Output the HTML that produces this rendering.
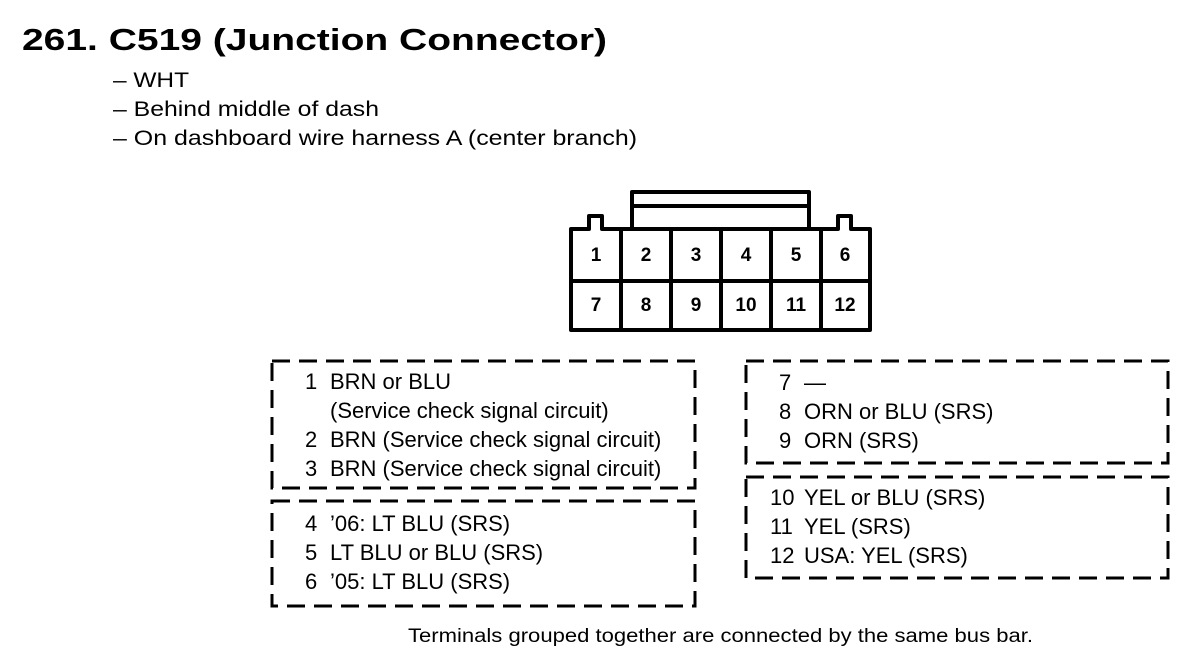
<!DOCTYPE html>
<html><head><meta charset="utf-8"><style>
html,body{margin:0;padding:0;background:#fff;}
svg{display:block;}
text{font-family:"Liberation Sans",Arial,sans-serif;fill:#000;}
</style></head><body>
<svg width="1200" height="670" viewBox="0 0 1200 670" xmlns="http://www.w3.org/2000/svg">
<text x="22" y="50" font-size="31" font-weight="bold" textLength="585" lengthAdjust="spacingAndGlyphs">261. C519 (Junction Connector)</text>
<text x="113" y="87" font-size="21" textLength="76" lengthAdjust="spacingAndGlyphs">– WHT</text>
<text x="113" y="116" font-size="21" textLength="266" lengthAdjust="spacingAndGlyphs">– Behind middle of dash</text>
<text x="113" y="145" font-size="21" textLength="524" lengthAdjust="spacingAndGlyphs">– On dashboard wire harness A (center branch)</text>

<g fill="none" stroke="#000" stroke-width="4" stroke-linejoin="round">
<rect x="632" y="192" width="177" height="37"/>
<line x1="632" y1="206" x2="809" y2="206"/>
<path d="M571 229 H589 V216 H602 V229 H838 V216 H851 V229 H870 V330 H571 Z" fill="#fff"/>
<line x1="571" y1="281" x2="870" y2="281"/>
<line x1="621" y1="229" x2="621" y2="330"/>
<line x1="671" y1="229" x2="671" y2="330"/>
<line x1="721" y1="229" x2="721" y2="330"/>
<line x1="771" y1="229" x2="771" y2="330"/>
<line x1="821" y1="229" x2="821" y2="330"/>
</g>
<g font-size="19" font-weight="bold" text-anchor="middle">
<text x="596" y="261">1</text><text x="646" y="261">2</text><text x="696" y="261">3</text><text x="746" y="261">4</text><text x="796" y="261">5</text><text x="845" y="261">6</text>
<text x="596" y="311">7</text><text x="646" y="311">8</text><text x="696" y="311">9</text><text x="746" y="311">10</text><text x="796" y="311">11</text><text x="845" y="311">12</text>
</g>

<g fill="none" stroke="#000" stroke-width="3" stroke-dasharray="18 9">
<rect x="272" y="361" width="423" height="127"/>
<rect x="272" y="501" width="423" height="105"/>
<rect x="746" y="361" width="422" height="102"/>
<rect x="746" y="477" width="422" height="101"/>
</g>

<g font-size="22">
<text x="305" y="389">1</text><text x="330" y="389">BRN or BLU</text>
<text x="330" y="418">(Service check signal circuit)</text>
<text x="305" y="447">2</text><text x="330" y="447">BRN (Service check signal circuit)</text>
<text x="305" y="476">3</text><text x="330" y="476">BRN (Service check signal circuit)</text>
<text x="305" y="531">4</text><text x="330" y="531">’06: LT BLU (SRS)</text>
<text x="305" y="560">5</text><text x="330" y="560">LT BLU or BLU (SRS)</text>
<text x="305" y="589">6</text><text x="330" y="589">’05: LT BLU (SRS)</text>

<text x="779" y="390">7</text><text x="804" y="390">—</text>
<text x="779" y="419">8</text><text x="804" y="419">ORN or BLU (SRS)</text>
<text x="779" y="448">9</text><text x="804" y="448">ORN (SRS)</text>
<text x="770" y="505">10</text><text x="804" y="505">YEL or BLU (SRS)</text>
<text x="770" y="534">11</text><text x="804" y="534">YEL (SRS)</text>
<text x="770" y="563">12</text><text x="804" y="563">USA: YEL (SRS)</text>
</g>
<text x="408" y="642" font-size="19" textLength="625" lengthAdjust="spacingAndGlyphs">Terminals grouped together are connected by the same bus bar.</text>
</svg>
</body></html>
